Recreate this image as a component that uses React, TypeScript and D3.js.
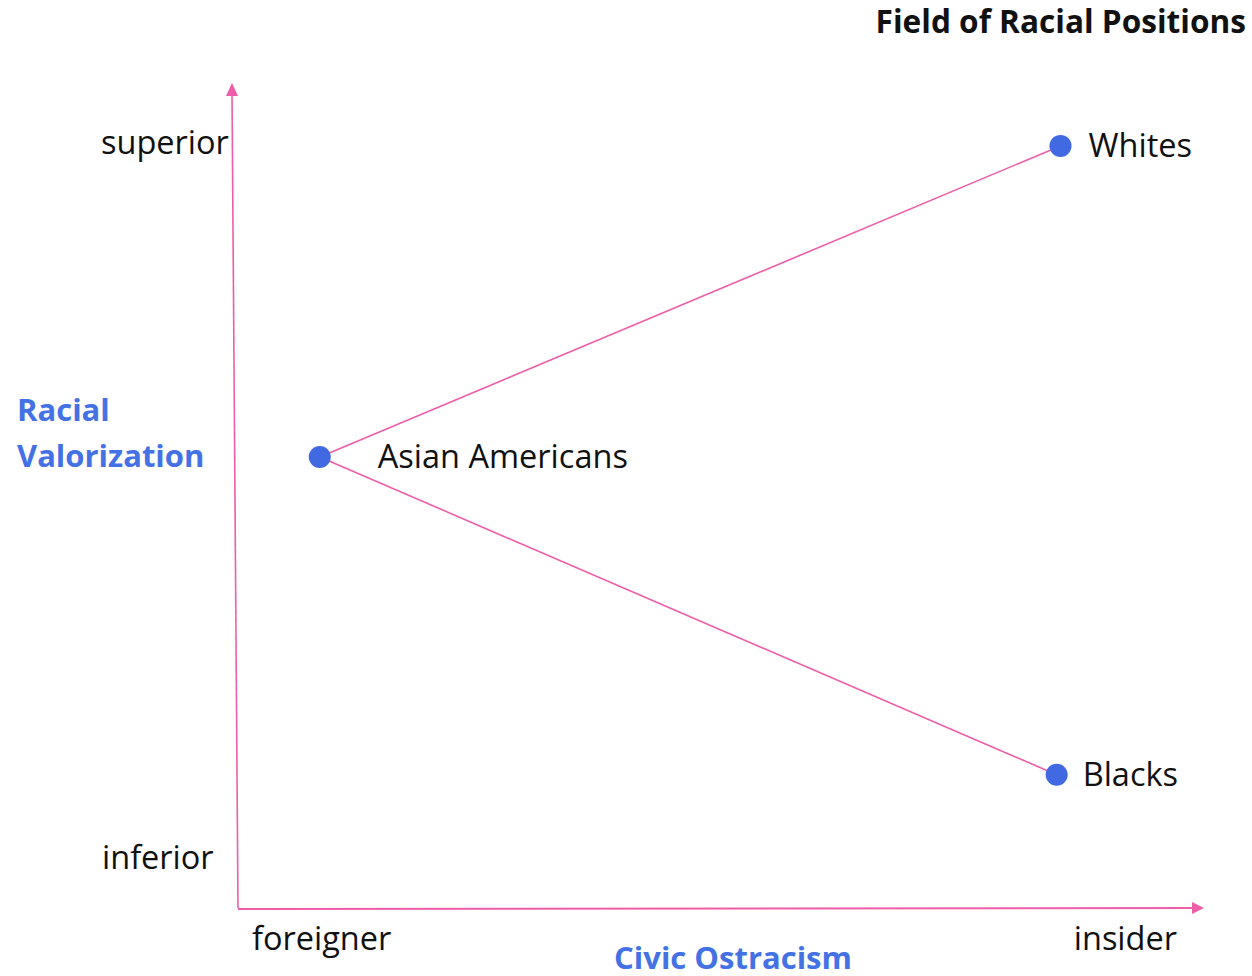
import React from "react";
import * as d3 from "d3";

const groups = ["Whites", "Asian Americans", "Blacks"];
const civicValues = [8.55, 0.85, 8.51];
const valorValues = [9.26, 5.48, 1.62];
const links: [number, number][] = [[1, 0], [1, 2]];
const xEndLabels = ["foreigner", "insider"];
const yEndLabels = ["inferior", "superior"];
const title = "Field of Racial Positions";
const xTitle = "Civic Ostracism";
const yTitle = ["Racial", "Valorization"];

const W = 1252, H = 976;
const PINK = "#EE5DA8";
const BLUE = "#4472E4";
const DOT = "#4169E1";
const FONT = "'Open Sans', sans-serif";
const FS = 32.5;
const BFS = 31;

export default function App() {
  const x = d3.scaleLinear().domain([0, 10]).range([238, 1200]);
  const y = d3.scaleLinear().domain([0, 10]).range([908, 85]);
  const line = d3.line<number>().x((i) => x(civicValues[i])).y((i) => y(valorValues[i]));
  const labelDx = [28, 58, 26];
  return (
    <svg width={W} height={H} style={{ position: "absolute", left: 0, top: 0, background: "#fff" }} fontFamily={FONT}>
      <text x={1246} y={33} textAnchor="end" fontSize={31.6} fontWeight="bold" fill="#111">{title}</text>
      {/* y axis */}
      <line x1={x(0)} y1={y(0)} x2={x(0) - 6} y2={y(0) - 815} stroke={PINK} strokeWidth={1.6} />
      <path d={`M${x(0) - 6 - 6},${y(0) - 812} L${x(0) - 6},${y(0) - 825} L${x(0) - 6 + 6},${y(0) - 812} Z`} fill={PINK} />
      {/* x axis */}
      <line x1={x(0)} y1={y(0) + 1} x2={x(10) - 4} y2={y(0)} stroke={PINK} strokeWidth={2} />
      <path d={`M${x(10) - 8},${y(0) - 6} L${x(10) + 4},${y(0)} L${x(10) - 8},${y(0) + 6} Z`} fill={PINK} />
      {links.map(([a, b], k) => (
        <path key={k} d={line([a, b]) || ""} stroke={PINK} strokeWidth={1.6} fill="none" />
      ))}
      {groups.map((g, i) => (
        <g key={g}>
          <circle cx={x(civicValues[i])} cy={y(valorValues[i])} r={11} fill={DOT} />
          <text x={x(civicValues[i]) + labelDx[i]} y={y(valorValues[i]) + 11} fontSize={FS} fill="#111">{g}</text>
        </g>
      ))}
      <text x={101} y={154} fontSize={FS} fill="#111">{yEndLabels[1]}</text>
      <text x={102} y={869} fontSize={FS} fill="#111">{yEndLabels[0]}</text>
      <text x={252} y={950} fontSize={FS} fill="#111">{xEndLabels[0]}</text>
      <text x={1177} y={950} textAnchor="end" fontSize={FS} fill="#111">{xEndLabels[1]}</text>
      <text x={733} y={969} textAnchor="middle" fontSize={BFS} fontWeight="bold" fill={BLUE}>{xTitle}</text>
      <text x={17} y={421} fontSize={BFS} fontWeight="bold" fill={BLUE}>{yTitle[0]}</text>
      <text x={17} y={467} fontSize={BFS} fontWeight="bold" fill={BLUE}>{yTitle[1]}</text>
    </svg>
  );
}
